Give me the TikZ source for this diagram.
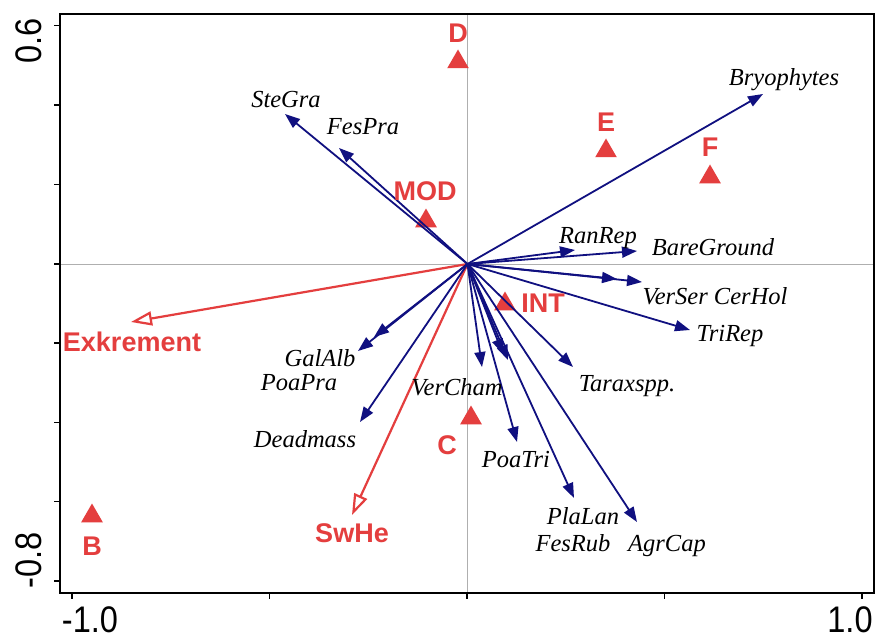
\documentclass[tikz,border=0pt]{standalone}
\usepackage{fontspec}
\setmainfont{Liberation Serif}
\newfontfamily\arialf{Liberation Sans}
\usetikzlibrary{arrows.meta,shapes.geometric}
\definecolor{sred}{RGB}{228,62,62}
\definecolor{sblue}{RGB}{16,16,128}
\definecolor{gridg}{RGB}{175,175,175}
\begin{document}
\begin{tikzpicture}[x=1pt,y=-1pt,
  spec/.style={font=\fontsize{24.5}{28}\selectfont\itshape, text height=16pt, text depth=0pt, inner sep=0pt},
  site/.style={font=\arialf\bfseries\fontsize{27}{30}\selectfont, text=sred, text height=19.3pt, text depth=0pt, inner sep=0pt},
  ticklab/.style={font=\arialf\fontsize{37}{40}\selectfont, inner sep=0pt},
  mk/.style={regular polygon, regular polygon sides=3, minimum size=25pt, inner sep=0pt, fill=sred},
  barrow/.style={draw=sblue, line width=1.8pt, -{Triangle[length=15pt,width=11pt]}},
  rarrow/.style={draw=sred, line width=2.2pt, -{Triangle[open,length=21pt,width=14pt]}},
  tickline/.style={line width=1.6pt}
]
\useasboundingbox (0,0) rectangle (877,639);
\fill[white] (0,0) rectangle (877,639);

% axes through origin
\coordinate (O) at (467.5,264);
\coordinate (hl) at (60,264);
\coordinate (hr) at (874,264);
\coordinate (vt) at (467.5,14);
\coordinate (vb) at (467.5,593);
\draw[gridg, line width=1pt] (hl) -- (hr);
\draw[gridg, line width=1pt] (vt) -- (vb);

% frame
\draw[line width=2pt] (60,14) rectangle (874,593);
\foreach \yy in {25.5,105,184.5,264,343,422.5,501.5,581}
  \draw[tickline] (54,\yy) -- (60,\yy);
\foreach \xx in {72,269.6,467,664.6,862}
  \draw[tickline] (\xx,593) -- (\xx,599);

\node[ticklab, rotate=90] (l06) at (28.5,40.8) {\scalebox{0.88}[1]{0.6}};
\node[ticklab, rotate=90] (l08) at (28.5,560) {\scalebox{0.88}[1]{-0.8}};
\node[ticklab] (lm1) at (90,620) {\scalebox{0.88}[1]{-1.0}};
\node[ticklab] (lp1) at (850,620) {\scalebox{0.88}[1]{1.0}};

% site markers
\node[mk] (mB) at (92,516) {};
\node[mk] (mC) at (471,418) {};
\node[mk] (mD) at (458,62) {};
\node[mk] (mE) at (606,151) {};
\node[mk] (mF) at (710,177) {};
\node[mk] (mMOD) at (426,221) {};
\node[mk] (mINT) at (505,304) {};

% red arrows
\coordinate (tExk) at (131,322);
\coordinate (tSwHe) at (352,515);
\draw[rarrow] (O) -- (tExk);
\draw[rarrow] (O) -- (tSwHe);

% blue arrows
\coordinate (tSteGra) at (285,114);
\coordinate (tFesPra) at (339,148);
\coordinate (tBryo) at (763,94);
\coordinate (tRanRep) at (575,250);
\coordinate (tBare) at (637,251);
\coordinate (tVerSer) at (617,279);
\coordinate (tCerHol) at (642,282);
\coordinate (tTriRep) at (690,330);
\coordinate (tTarax) at (573,367);
\coordinate (tVerCham) at (482,367);
\coordinate (tFesRub) at (503,354);
\coordinate (tX) at (508,360);
\coordinate (tPoaTri) at (517,442);
\coordinate (tPlaLan) at (574,498);
\coordinate (tAgrCap) at (637,522);
\coordinate (tGalAlb) at (358,351);
\coordinate (tPoaPra) at (374,337);
\coordinate (tDead) at (360,422);
\foreach \t in {tSteGra,tFesPra,tBryo,tRanRep,tBare,tVerSer,tCerHol,tTriRep,tTarax,tVerCham,tFesRub,tX,tPoaTri,tPlaLan,tAgrCap,tGalAlb,tPoaPra,tDead}
  \draw[barrow] (O) -- (\t);

% species labels
\node[spec] (nSteGra) at (286,100) {SteGra};
\node[spec] (nFesPra) at (363,127) {FesPra};
\node[spec] (nBryo) at (784,78) {Bryophytes};
\node[spec] (nRanRep) at (598,235) {RanRep};
\node[spec] (nBare) at (713,247) {BareGround};
\node[spec] (nVerSer) at (715,296) {VerSer CerHol};
\node[spec] (nTriRep) at (730,333) {TriRep};
\node[spec] (nTarax) at (627,383) {Taraxspp.};
\node[spec] (nVerCham) at (457,387) {VerCham};
\node[spec] (nPoaTri) at (516,459) {PoaTri};
\node[spec] (nPlaLan) at (583,516) {PlaLan};
\node[spec] (nFesRub) at (573,543) {FesRub};
\node[spec] (nAgrCap) at (667,543) {AgrCap};
\node[spec] (nGalAlb) at (320,358) {GalAlb};
\node[spec] (nPoaPra) at (299,382) {PoaPra};
\node[spec] (nDead) at (305,439) {Deadmass};

% site labels
\node[site] (sExk) at (132,342) {Exkrement};
\node[site] (sSwHe) at (352,533) {SwHe};
\node[site] (sB) at (92,546) {B};
\node[site] (sC) at (447,445) {C};
\node[site] (sD) at (458,33) {D};
\node[site] (sE) at (606,122) {E};
\node[site] (sF) at (710,147) {F};
\node[site] (sMOD) at (425,191) {MOD};
\node[site] (sINT) at (543,303) {INT};
\end{tikzpicture}
\end{document}
